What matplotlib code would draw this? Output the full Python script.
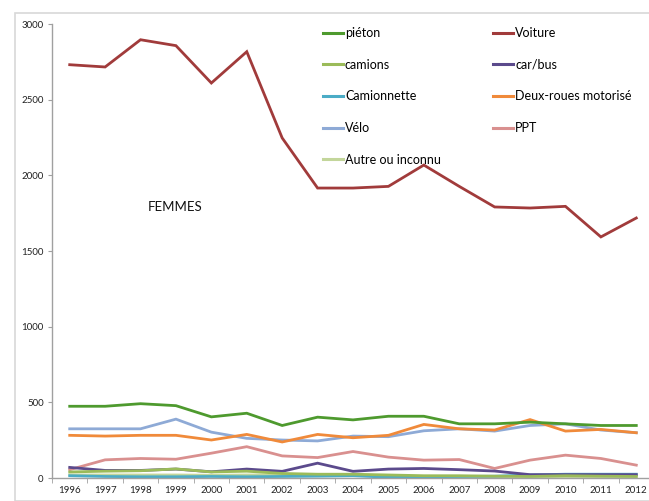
import matplotlib.pyplot as plt
from matplotlib.lines import Line2D

plt.rcParams['font.family'] = ['Lato', 'DejaVu Sans']

# years and series values
years = [str(y) for y in range(1996, 2013)]

pieton = [474, 474, 491, 478, 404, 428, 347, 402, 384, 408, 408, 358, 358, 369, 358, 347, 347]
voiture = [2731, 2716, 2896, 2857, 2610, 2817, 2247, 1916, 1916, 1927, 2068, 1927, 1791, 1784, 1795, 1593, 1718]
camions = [40, 45, 48, 60, 40, 45, 30, 25, 25, 20, 15, 15, 12, 10, 15, 12, 10]
car_bus = [70, 50, 50, 59, 41, 59, 44, 98, 44, 59, 63, 55, 46, 22, 22, 22, 22]
camionnette = [15, 10, 8, 8, 10, 8, 10, 12, 15, 5, 8, 10, 12, 20, 25, 25, 25]
deux_roues = [282, 277, 282, 282, 251, 288, 238, 288, 266, 282, 354, 325, 317, 386, 310, 321, 299]
velo = [325, 325, 325, 389, 303, 262, 251, 245, 277, 273, 312, 325, 310, 347, 358, 317, 299]
ppt = [55, 120, 129, 124, 164, 207, 146, 135, 175, 138, 118, 122, 63, 118, 151, 129, 85]
autre = [20, 20, 20, 20, 18, 20, 20, 20, 20, 15, 10, 10, 10, 10, 10, 10, 10]

labels = ['piéton', 'Voiture', 'camions', 'car/bus', 'Camionnette',
          'Deux-roues motorisé', 'Vélo', 'PPT', 'Autre ou inconnu']
series = [pieton, voiture, camions, car_bus, camionnette, deux_roues, velo, ppt, autre]
colors = ['#4e9a2e', '#a13b3b', '#9bbb59', '#5b4a8c', '#4bacc6',
          '#f08a3a', '#8eaad6', '#d9908f', '#c3d69b']

fig = plt.figure(figsize=(6.49, 5.01), dpi=100)

# light frame around the chart, like the spreadsheet chart area
frame = plt.Rectangle((15 / 649, 0), 1, 1 - 13 / 501, transform=fig.transFigure,
                      fill=False, edgecolor='#d8d8d8', linewidth=1.2)
fig.patches.append(frame)

ax = fig.add_axes([52 / 649, 23 / 501, 602 / 649, 454 / 501])

x = list(range(len(years)))
# draw in reverse so piéton / Voiture end up on top
for vals, lab, col in reversed(list(zip(series, labels, colors))):
    ax.plot(x, vals, color=col, linewidth=2.0, label=lab, solid_joinstyle='miter')

ax.set_xlim(-0.5, 16.5)
ax.set_ylim(0, 3000)
ax.set_yticks([0, 500, 1000, 1500, 2000, 2500, 3000])
ax.set_xticks(x)
ax.set_xticklabels(years)
ax.set_xticks([i - 0.5 for i in range(len(years) + 1)], minor=True)
ax.tick_params(axis='x', which='major', length=0, labelsize=7, pad=6, colors='#222222')
ax.tick_params(axis='x', which='minor', length=3.5, color='#a0a0a0')
ax.tick_params(axis='y', length=3, labelsize=7, color='#a0a0a0', labelcolor='#222222', pad=3)

for s in ['top', 'right']:
    ax.spines[s].set_visible(False)
for s in ['left', 'bottom']:
    ax.spines[s].set_color('#a0a0a0')
    ax.spines[s].set_linewidth(1.0)

ax.text(148 / 649, 1 - 207 / 501, 'FEMMES', transform=fig.transFigure,
        fontsize=9.5, va='center', ha='left', color='#111111')

# legend in row order, two columns
order = [0, 2, 4, 6, 8, 1, 3, 5, 7]
handles = [Line2D([], [], color=colors[i], linewidth=2.2) for i in order]
fig.legend(handles, [labels[i] for i in order], ncol=2, frameon=False,
           loc='upper left', bbox_to_anchor=(323 / 649, 1 - 27 / 501),
           borderaxespad=0, borderpad=0, fontsize=9, handlelength=1.6,
           handletextpad=0.15, labelspacing=1.57, columnspacing=4.2)

fig.savefig('out.png', dpi=100)
